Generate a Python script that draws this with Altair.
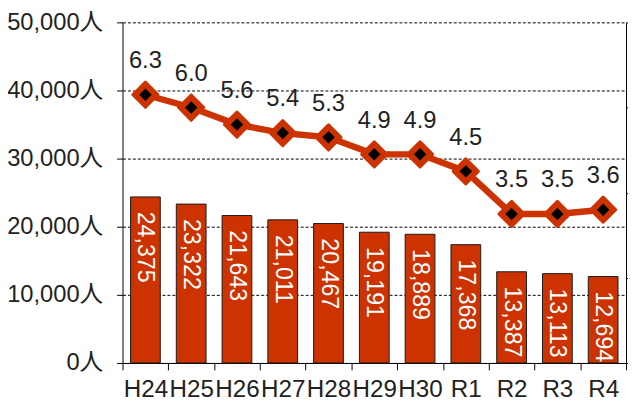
import altair as alt
import pandas as pd

years = ["H24", "H25", "H26", "H27", "H28", "H29", "H30", "R1", "R2", "R3", "R4"]
counts = [24375, 23322, 21643, 21011, 20467, 19191, 18889, 17368, 13387, 13113, 12694]
rates = [6.3, 6.0, 5.6, 5.4, 5.3, 4.9, 4.9, 4.5, 3.5, 3.5, 3.6]
count_ticks = [0, 10000, 20000, 30000, 40000, 50000]
rate_ticks = [0, 2, 4, 6, 8]

df = pd.DataFrame({"year": years, "count": counts, "rate": rates})

RED = "#CC3300"
SANS = "Liberation Sans, Noto Sans CJK JP"

x = alt.X(
    "year:N",
    sort=years,
    scale=alt.Scale(paddingInner=0, paddingOuter=0),
    axis=alt.Axis(
        title=None, labelAngle=0, tickBand="extent", tickSize=7,
        tickColor="black", domainColor="black", labelFont=SANS,
        labelFontSize=24.5, labelColor="#222", labelPadding=8, grid=False,
    ),
)

y_left = alt.Y(
    "count:Q",
    scale=alt.Scale(domain=[0, 50000]),
    axis=alt.Axis(
        title=None, values=count_ticks,
        labelExpr="format(datum.value, ',') + '人'",
        grid=True, gridDash=[3, 2], gridColor="black", gridWidth=1,
        domainColor="black", tickColor="black", tickSize=6,
        labelFont=SANS, labelFontSize=24, labelPadding=14, labelColor="#222",
    ),
)

right_axis = alt.Axis(
    orient="right", title=None, values=rate_ticks, labels=False, grid=False,
    domainColor="black", tickColor="black", tickSize=5,
)
y_right = alt.Y("rate:Q", scale=alt.Scale(domain=[0, 8]), axis=right_axis)

base = alt.Chart(df)

bars = base.mark_bar(
    width=alt.RelativeBandSize(0.65), color=RED, stroke="#1a1a1a", strokeWidth=1
).encode(x=x, y=y_left)

bar_text = base.mark_text(
    angle=90, align="left", baseline="middle", dx=15, color="white",
    font=SANS, fontSize=23.5,
).encode(x=x, y=y_left, text=alt.Text("count:Q", format=","))

line = base.mark_line(color=RED, strokeWidth=6.5).encode(x=x, y=y_right)
outer = base.mark_point(
    shape="diamond", filled=True, size=650, color=RED, stroke=RED,
    strokeWidth=3, strokeJoin="round", opacity=1,
).encode(x=x, y=y_right)
inner = base.mark_point(
    shape="diamond", filled=True, size=160, color="black", opacity=1
).encode(x=x, y=y_right)
rate_text = base.mark_text(
    dy=-34, baseline="middle", font=SANS, fontSize=24, color="#222"
).encode(x=x, y=y_right, text=alt.Text("rate:Q", format=".1f"))

left = alt.layer(bars, bar_text)
right = alt.layer(line, outer, inner, rate_text)

chart = (
    alt.layer(left, right)
    .resolve_scale(y="independent")
    .properties(
        width=510, height=345,
        autosize=alt.AutoSizeParams(type="none"),
        padding={"left": 116, "top": 12, "right": 2, "bottom": 37},
        background="white",
    )
    .configure_view(stroke=None)
)

chart.save("out.html", embed_options={"renderer": "svg", "actions": False})
